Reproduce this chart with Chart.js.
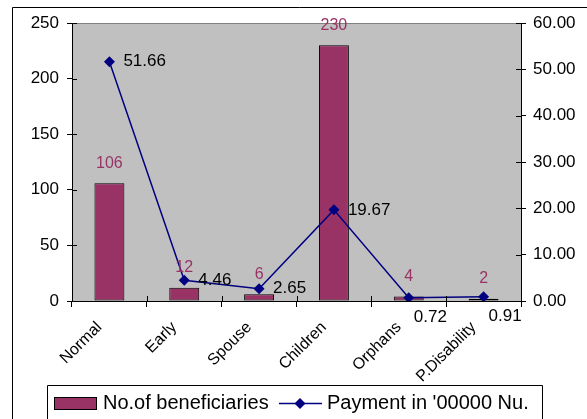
<!DOCTYPE html>
<html>
<head>
<meta charset="utf-8">
<script src="https://cdn.jsdelivr.net/npm/chart.js@4.4.1/dist/chart.umd.min.js"></script>
<style>
  html, body { margin: 0; padding: 0; background: #ffffff; }
  #wrap { width: 587px; height: 419px; position: relative; }
</style>
</head>
<body>
<div id="wrap"><canvas id="c" width="587" height="419"></canvas></div>
<script>
// Pension beneficiaries by category and payments made
const categories = ['Normal', 'Early', 'Spouse', 'Children', 'Orphans', 'P.Disability'];
const beneficiaries = [106, 12, 6, 230, 4, 2];
const payments = [51.66, 4.46, 2.65, 19.67, 0.72, 0.91];
const leftTicks = [0, 50, 100, 150, 200, 250];
const rightTicks = [0, 10, 20, 30, 40, 50, 60];

const BAR_COLOR = '#993366';
const LINE_COLOR = '#000080';
const FONT = "'Liberation Sans', Arial, sans-serif";

Chart.defaults.font.family = FONT;
Chart.defaults.font.size = 17;
Chart.defaults.color = '#000000';

// background of the plotting area, frame, crossing tick marks, labels and legend
const decorations = {
  id: 'decorations',
  beforeDraw(chart) {
    const { ctx, chartArea: a } = chart;
    ctx.save();
    ctx.fillStyle = '#ffffff';
    ctx.fillRect(0, 0, chart.width, chart.height);
    ctx.fillStyle = '#c0c0c0';
    ctx.fillRect(a.left, a.top, a.right - a.left, a.bottom - a.top);
    ctx.strokeStyle = '#808080';
    ctx.lineWidth = 1;
    ctx.beginPath();
    ctx.moveTo(a.left, a.top + 0.5);
    ctx.lineTo(a.right, a.top + 0.5);
    ctx.stroke();
    // outer chart frame
    ctx.strokeStyle = '#000000';
    ctx.beginPath();
    ctx.moveTo(12.5, chart.height);
    ctx.lineTo(12.5, 7.5);
    ctx.lineTo(chart.width, 7.5);
    ctx.stroke();
    ctx.restore();
  },
  afterDatasetsDraw(chart) {
    const { ctx, chartArea: a } = chart;
    const yl = chart.scales.y, yr = chart.scales.y1, x = chart.scales.x;
    ctx.save();
    ctx.strokeStyle = '#000000';
    ctx.lineWidth = 1;
    ctx.beginPath();
    leftTicks.forEach(v => {
      const py = Math.round(yl.getPixelForValue(v)) + 0.5;
      ctx.moveTo(a.left, py); ctx.lineTo(a.left + 5, py);
    });
    rightTicks.forEach(v => {
      const py = Math.round(yr.getPixelForValue(v)) + 0.5;
      ctx.moveTo(a.right - 5, py); ctx.lineTo(a.right, py);
    });
    for (let i = 0; i <= categories.length; i++) {
      const px = Math.round(x.getPixelForValue(i - 0.5)) + 0.5;
      ctx.moveTo(px, a.bottom - 5); ctx.lineTo(px, a.bottom);
    }
    ctx.stroke();

    // value labels
    ctx.font = '16px ' + FONT;
    const barMeta = chart.getDatasetMeta(0);
    ctx.fillStyle = BAR_COLOR;
    ctx.textAlign = 'center';
    ctx.textBaseline = 'bottom';
    barMeta.data.forEach((el, i) => {
      ctx.fillText(String(beneficiaries[i]), el.x, el.y - 12);
    });
    ctx.font = '17px ' + FONT;
    const lineMeta = chart.getDatasetMeta(1);
    ctx.fillStyle = '#000000';
    ctx.textAlign = 'left';
    ctx.textBaseline = 'middle';
    lineMeta.data.forEach((el, i) => {
      const txt = payments[i].toFixed(2);
      if (payments[i] < 1) {
        ctx.fillText(txt, el.x + 5, el.y + 20);
      } else {
        ctx.fillText(txt, el.x + 14, el.y);
      }
    });
    ctx.restore();
  },
  afterDraw(chart) {
    const { ctx } = chart;
    ctx.save();
    // legend box
    ctx.strokeStyle = '#000000';
    ctx.lineWidth = 1;
    ctx.beginPath();
    ctx.moveTo(47.5, chart.height);
    ctx.lineTo(47.5, 385.5);
    ctx.lineTo(542.5, 385.5);
    ctx.lineTo(542.5, chart.height);
    ctx.stroke();
    ctx.fillStyle = BAR_COLOR;
    ctx.fillRect(54.5, 397.5, 42, 12);
    ctx.strokeRect(54.5, 397.5, 42, 12);
    ctx.font = '20px ' + FONT;
    ctx.fillStyle = '#000000';
    ctx.textAlign = 'left';
    ctx.textBaseline = 'middle';
    ctx.fillText(chart.data.datasets[0].label, 103, 403);
    ctx.strokeStyle = LINE_COLOR;
    ctx.lineWidth = 1.5;
    ctx.beginPath();
    ctx.moveTo(279, 403.5);
    ctx.lineTo(322, 403.5);
    ctx.stroke();
    ctx.fillStyle = LINE_COLOR;
    ctx.beginPath();
    ctx.moveTo(300, 398);
    ctx.lineTo(305.5, 403.5);
    ctx.lineTo(300, 409);
    ctx.lineTo(294.5, 403.5);
    ctx.closePath();
    ctx.fill();
    ctx.fillStyle = '#000000';
    ctx.fillText(chart.data.datasets[1].label, 327, 403);
    ctx.restore();
  }
};

new Chart(document.getElementById('c'), {
  type: 'bar',
  data: {
    labels: categories,
    datasets: [
      {
        type: 'bar',
        label: 'No.of beneficiaries',
        data: beneficiaries,
        yAxisID: 'y',
        backgroundColor: BAR_COLOR,
        borderColor: '#000000',
        borderWidth: 1,
        borderSkipped: false,
        barPercentage: 0.4,
        categoryPercentage: 1.0,
        order: 1
      },
      {
        type: 'line',
        label: "Payment in '00000 Nu.",
        data: payments,
        yAxisID: 'y1',
        borderColor: LINE_COLOR,
        backgroundColor: LINE_COLOR,
        borderWidth: 1.5,
        pointStyle: 'rectRot',
        pointRadius: 5.5,
        pointBorderWidth: 0,
        tension: 0,
        order: 0
      }
    ]
  },
  options: {
    responsive: false,
    animation: false,
    layout: { padding: { top: 23, left: 0, right: 0, bottom: 0 } },
    plugins: {
      legend: { display: false },
      tooltip: { enabled: false }
    },
    scales: {
      x: {
        offset: true,
        grid: { display: true, drawOnChartArea: false, offset: true, color: '#000000', tickLength: 6 },
        border: { display: true, color: '#000000', width: 1 },
        ticks: {
          minRotation: 45, maxRotation: 45, autoSkip: false,
          padding: 11, labelOffset: -10, color: '#000000',
          font: { size: 16 }
        },
        afterFit(s) { s.height = 118; }
      },
      y: {
        position: 'left',
        min: 0, max: 250,
        grid: { display: true, drawOnChartArea: false, color: '#000000', tickLength: 5 },
        border: { display: true, color: '#000000', width: 1 },
        ticks: { stepSize: 50, padding: 8, color: '#000000' },
        afterBuildTicks(s) { s.ticks = leftTicks.map(v => ({ value: v })); },
        afterFit(s) { s.width = 72; }
      },
      y1: {
        position: 'right',
        min: 0, max: 60,
        grid: { display: true, drawOnChartArea: false, color: '#000000', tickLength: 5 },
        border: { display: true, color: '#000000', width: 1 },
        ticks: { stepSize: 10, padding: 7, color: '#000000', callback: v => Number(v).toFixed(2) },
        afterBuildTicks(s) { s.ticks = rightTicks.map(v => ({ value: v })); },
        afterFit(s) { s.width = 66; }
      }
    }
  },
  plugins: [decorations]
});
</script>
</body>
</html>
